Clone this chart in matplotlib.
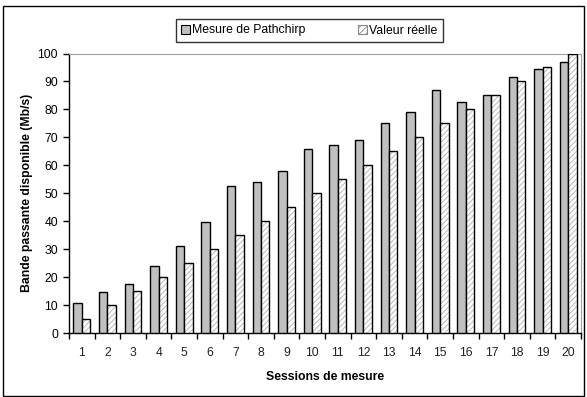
import numpy as np
import matplotlib
matplotlib.use('Agg')
import matplotlib.pyplot as plt
from matplotlib.patches import Rectangle

plt.rcParams['font.family'] = ['Liberation Sans', 'DejaVu Sans']
plt.rcParams['hatch.linewidth'] = 0.6

sessions = list(range(1, 21))
pathchirp = [10.6, 14.8, 17.5, 23.8, 31.0, 39.6, 52.5, 54.2, 58.0, 65.7,
             67.3, 69.0, 75.0, 79.2, 86.8, 82.6, 85.0, 91.6, 94.4, 96.8]
reelle = [5, 10, 15, 20, 25, 30, 35, 40, 45, 50,
          55, 60, 65, 70, 75, 80, 85, 90, 95, 100]

fig = plt.figure(figsize=(5.87, 3.97), dpi=100)
ax = fig.add_axes([69 / 587, 1 - 333 / 397, 512 / 587, 279.5 / 397])

x = np.arange(len(sessions))
w = 0.325

ax.bar(x - w / 2, pathchirp, w, color='#c0c0c0', edgecolor='black', linewidth=1.0,
       label='Mesure de Pathchirp', zorder=3)
ax.bar(x + w / 2, reelle, w, color='white', edgecolor='#b0b0b0', linewidth=0,
       hatch='//////', zorder=3)
ax.bar(x + w / 2, reelle, w, color='none', edgecolor='black', linewidth=1.0, zorder=4)

ax.set_xlim(-0.5, len(sessions) - 0.5)
ax.set_ylim(0, 100)
ax.set_yticks(range(0, 101, 10))
ax.set_xticks(x)
ax.set_xticklabels([str(s) for s in sessions])
ax.set_xticks(np.arange(-0.5, len(sessions), 1.0), minor=True)
ax.tick_params(axis='x', which='major', length=0, pad=10, labelsize=8.7, colors='#222222')
ax.tick_params(axis='x', which='minor', length=4, width=1, direction='out')
ax.tick_params(axis='y', length=4, width=1, direction='out', pad=4, labelsize=8.7)

ax.spines['top'].set_color('#a0a0a0')
ax.spines['right'].set_color('#a0a0a0')
ax.spines['left'].set_linewidth(1)
ax.spines['bottom'].set_linewidth(1)

ax.set_ylabel('Bande passante disponible (Mb/s)', fontsize=8.8, fontweight='bold', labelpad=3)
ax.set_xlabel('Sessions de mesure', fontsize=8.8, fontweight='bold', labelpad=9)

# legend
h1 = Rectangle((0, 0), 1, 1, facecolor='#c0c0c0', edgecolor='black', linewidth=0.8)
h2 = Rectangle((0, 0), 1, 1, facecolor='white', edgecolor='#888888', linewidth=0.8, hatch='/////')
leg = fig.legend([h1, h2], ['Mesure de Pathchirp', 'Valeur réelle'], ncol=2,
                 loc='center', bbox_to_anchor=(309.5 / 587, 1 - 30.5 / 397),
                 fontsize=8.8, frameon=True, fancybox=False, edgecolor='black',
                 handlelength=0.7, handleheight=0.7, handletextpad=0.2,
                 columnspacing=4.3, borderpad=0.45, borderaxespad=0)
leg.get_frame().set_linewidth(1)

# chart border
fig.patches.append(Rectangle((3 / 587, 1.5 / 397), 581 / 587, 390 / 397,
                             transform=fig.transFigure, fill=False,
                             edgecolor='black', linewidth=1))

fig.savefig('out.png', dpi=100)
